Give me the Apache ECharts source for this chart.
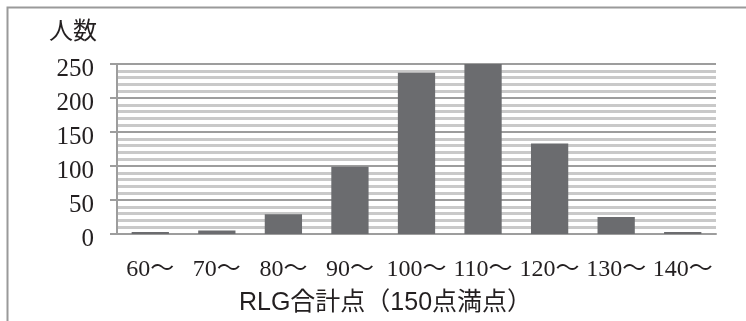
<!DOCTYPE html>
<html>
<head>
<meta charset="utf-8">
<script src="https://cdn.jsdelivr.net/npm/echarts@6/dist/echarts.min.js"></script>
<style>
  html, body { margin: 0; padding: 0; background: #fff; }
  #chart { width: 746px; height: 321px; }
</style>
</head>
<body>
<div id="chart"></div>
<script>
// Score bands (RLG total, out of 150) and number of people in each band
const categories = ['60～', '70～', '80～', '90～', '100～', '110～', '120～', '130～', '140～'];
const counts = [3, 5, 29, 99, 237, 250, 133, 25, 3];
const yTicks = { min: 0, max: 250, step: 50 };
const yName = '人数';
const xName = 'RLG合計点（150点満点）';

const serif = "'Liberation Serif', 'Noto Sans CJK JP', serif";
const sans = "'Liberation Sans', 'Noto Sans CJK JP', sans-serif";
const ink = '#231f20';
const major = '#9d9d9d';
const minor = '#c9c9c9';

const chart = echarts.init(document.getElementById('chart'), null, { renderer: 'canvas' });
chart.setOption({
  animation: false,
  backgroundColor: '#ffffff',
  graphic: [{
    type: 'rect',
    left: 5, top: 5,
    shape: { width: 800, height: 400 },
    style: { fill: 'none', stroke: '#9a9a9a', lineWidth: 2 },
    silent: true
  }],
  grid: { left: 117, right: 30, top: 64, bottom: 83, containLabel: false },
  xAxis: {
    type: 'category',
    data: categories,
    name: xName,
    nameLocation: 'middle',
    nameGap: 57,
    nameTextStyle: { fontFamily: sans, fontSize: 25, color: ink, padding: [0, 62, 0, 0] },
    axisLine: { show: true, lineStyle: { color: major, width: 2 } },
    axisTick: { show: false },
    axisLabel: { fontFamily: serif, fontSize: 24, color: ink, margin: 24, interval: 0 },
    splitLine: { show: false }
  },
  yAxis: {
    type: 'value',
    min: yTicks.min,
    max: yTicks.max,
    interval: yTicks.step,
    name: yName,
    nameLocation: 'end',
    nameGap: 22,
    nameTextStyle: { fontFamily: "'Noto Sans CJK JP', sans-serif", fontSize: 24, color: ink, align: 'right', padding: [0, 20, 0, 0] },
    axisLine: { show: true, lineStyle: { color: major, width: 2 } },
    axisTick: { show: true, inside: false, length: 7, lineStyle: { color: major, width: 2 } },
    axisLabel: { fontFamily: serif, fontSize: 25, color: ink, margin: 23, verticalAlign: 'top', lineHeight: 10 },
    splitLine: { show: true, lineStyle: { color: major, width: 2 } },
    minorTick: { show: false, splitNumber: 5 },
    minorSplitLine: { show: true, lineStyle: { color: minor, width: 3 } }
  },
  series: [{
    type: 'bar',
    data: counts,
    barWidth: '56%',
    itemStyle: { color: '#6b6c6f' },
    z: 3
  }]
});
</script>
</body>
</html>
